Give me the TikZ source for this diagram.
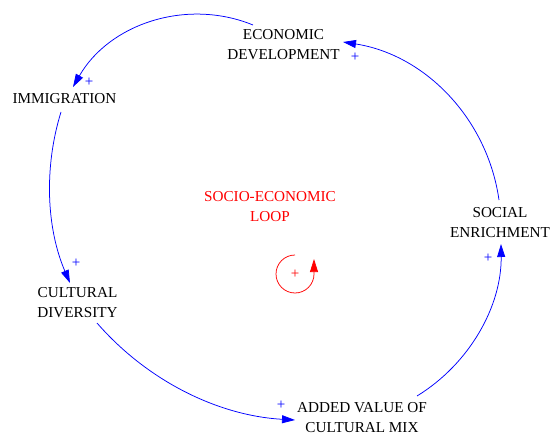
\documentclass[tikz,border=0pt]{standalone}
\usepackage{fontspec}
\setmainfont{Liberation Serif}
\usetikzlibrary{arrows.meta}
\begin{document}
\begin{tikzpicture}[x=1pt,y=1pt,
  var/.style={font=\fontsize{15.2}{20}\selectfont, align=center, inner sep=0pt},
  pol/.style={font=\fontsize{15}{18}\selectfont, text=blue, inner sep=0pt},
  link/.style={blue, line width=0.75pt, -{Triangle[length=13pt,width=8pt]}},
  looplink/.style={red, line width=0.75pt, -{Triangle[length=13pt,width=8pt]}},
]
\useasboundingbox (0,0) rectangle (551,437);
% variables
\node[var] (ed)  at (283.5,392) {ECONOMIC\\DEVELOPMENT};
\node[var] (imm) at (64.5,338) {IMMIGRATION};
\node[var] (cd)  at (77.5,134) {CULTURAL\\DIVERSITY};
\node[var] (av)  at (362,19) {ADDED VALUE OF\\CULTURAL MIX};
\node[var] (se)  at (500,214) {SOCIAL\\ENRICHMENT};
\node[var, text=red] (lbl) at (270,230) {SOCIO-ECONOMIC\\LOOP};
% polarities
\node[pol] (p1) at (89,355) {+};
\node[pol] (p2) at (76,174) {+};
\node[pol] (p3) at (281,32) {+};
\node[pol] (p4) at (488,179) {+};
\node[pol] (p5) at (355,380) {+};
% link end points
\coordinate (c1s) at (253,412); \coordinate (c1e) at (73,350);
\coordinate (c2s) at (61,325);  \coordinate (c2e) at (70,154);
\coordinate (c3s) at (97,114);  \coordinate (c3e) at (295,17);
\coordinate (c4s) at (417,41);  \coordinate (c4e) at (501,193);
\coordinate (c5s) at (499,237); \coordinate (c5e) at (343,395);
% links
\draw[link] (c1s) to[out=157.8,in=60.2,looseness=0.97] (c1e);
\draw[link] (c2s) to[out=252.8,in=113.3,looseness=0.88] (c2e);
\draw[link] (c3s) to[out=-49,in=176.8,looseness=0.89] (c3e);
\draw[link] (c4s) to[out=31.5,in=-89.3,looseness=0.91] (c4e);
\draw[link] (c5s) to[out=98.1,in=-8.8,looseness=0.95] (c5e);
% loop symbol
\node[pol, text=red] (lp) at (295,163) {+};
\coordinate (ls) at (295,182);
\draw[looplink] (ls) arc[start angle=90,end angle=360,radius=19] -- ++(0,15);
\end{tikzpicture}
\end{document}
